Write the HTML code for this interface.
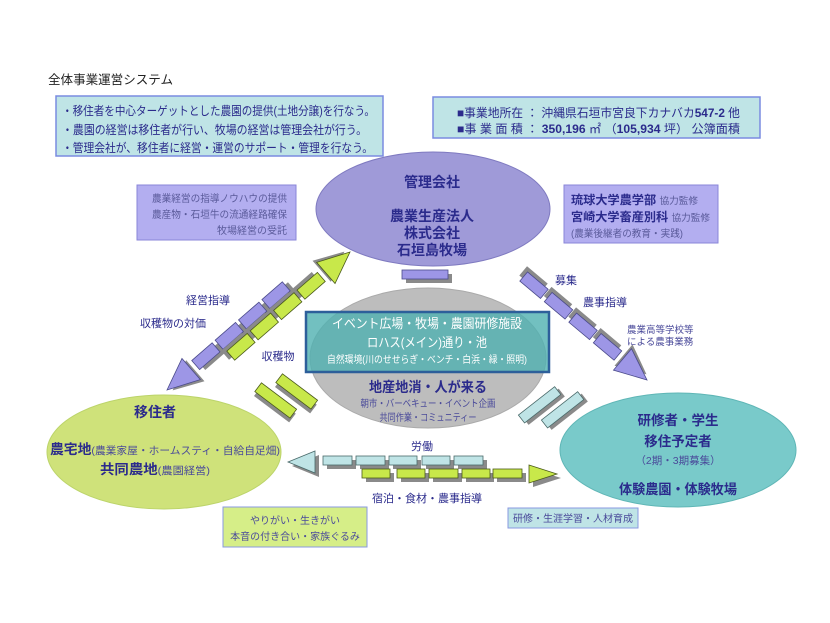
<!DOCTYPE html>
<html><head><meta charset="utf-8"><style>
html,body{margin:0;padding:0;background:#fff}
svg{display:block}
text{font-family:"Liberation Sans","Noto Sans CJK JP",sans-serif}
.b{font-weight:bold;fill:#2b2b8c}
</style></head><body>
<svg width="830" height="623" viewBox="0 0 830 623" xmlns="http://www.w3.org/2000/svg">
<defs>
<g id="ps"><rect x="4" y="-2" width="27" height="12" fill="#8a8a8a"/><rect x="0" y="-6" width="27" height="12" fill="#9d96e6" stroke="#4a4a8a" stroke-width="0.8"/></g>
<g id="gs"><rect x="4" y="-2" width="27" height="12" fill="#8a8a8a"/><rect x="0" y="-6" width="27" height="12" fill="#c8e84a" stroke="#4a5a1a" stroke-width="0.8"/></g>
</defs>
<rect width="830" height="623" fill="#fff"/>
<text x="48" y="84" font-size="12.5" fill="#222" textLength="125" lengthAdjust="spacingAndGlyphs">全体事業運営システム</text>

<rect x="56" y="96" width="327" height="60" fill="#bfe4e6" stroke="#7a8be0" stroke-width="1.5"/>
<g font-size="12.2" fill="#2b2b8c" lengthAdjust="spacingAndGlyphs">
<text x="62" y="115" textLength="313" lengthAdjust="spacingAndGlyphs">・移住者を中心ターゲットとした農園の提供(土地分譲)を行なう。</text>
<text x="62" y="134" textLength="305" lengthAdjust="spacingAndGlyphs">・農園の経営は移住者が行い、牧場の経営は管理会社が行う。</text>
<text x="62" y="152" textLength="311" lengthAdjust="spacingAndGlyphs">・管理会社が、移住者に経営・運営のサポート・管理を行なう。</text>
</g>

<rect x="433" y="97" width="327" height="41" fill="#bfe4e6" stroke="#7a8be0" stroke-width="1.5"/>
<g font-size="12" fill="#2b2b8c">
<text x="457" y="117" textLength="283" lengthAdjust="spacingAndGlyphs">■事業地所在 ： 沖縄県石垣市宮良下カナバカ<tspan font-weight="bold">547-2</tspan> 他</text>
<text x="457" y="133" textLength="283" lengthAdjust="spacingAndGlyphs">■事 業 面 積 ： <tspan font-weight="bold">350,196</tspan> ㎡ （<tspan font-weight="bold">105,934</tspan> 坪） 公簿面積</text>
</g>

<rect x="137" y="185" width="159" height="55" fill="#b3aef0" stroke="#8a86d8"/>
<g font-size="10" fill="#5a5a9a" text-anchor="end">
<text x="287" y="202" textLength="135" lengthAdjust="spacingAndGlyphs">農業経営の指導ノウハウの提供</text>
<text x="287" y="218" textLength="135" lengthAdjust="spacingAndGlyphs">農産物・石垣牛の流通経路確保</text>
<text x="287" y="234" textLength="70" lengthAdjust="spacingAndGlyphs">牧場経営の受託</text>
</g>

<rect x="564" y="185" width="154" height="58" fill="#b3aef0" stroke="#8a86d8"/>
<text x="571" y="204" font-size="12" class="b" textLength="127" lengthAdjust="spacingAndGlyphs">琉球大学農学部 <tspan font-size="9.5" font-weight="normal" fill="#5a5a9a">協力監修</tspan></text>
<text x="571" y="221" font-size="12" class="b" textLength="139" lengthAdjust="spacingAndGlyphs">宮崎大学畜産別科 <tspan font-size="9.5" font-weight="normal" fill="#5a5a9a">協力監修</tspan></text>
<text x="571" y="237" font-size="10" fill="#5a5a9a" textLength="112" lengthAdjust="spacingAndGlyphs">(農業後継者の教育・実践)</text>

<!-- top ellipse -->
<ellipse cx="433" cy="209" rx="117" ry="57" fill="#9f9ad8" stroke="#7f7ac0"/>
<g font-size="14" class="b" text-anchor="middle">
<text x="432" y="187">管理会社</text>
<text x="432" y="221">農業生産法人</text>
<text x="432" y="238">株式会社</text>
<text x="432" y="255">石垣島牧場</text>
</g>
<rect x="406" y="274" width="46" height="9" fill="#8a8a8a"/>
<rect x="402" y="270" width="46" height="9" fill="#9d96e6" stroke="#4a4a8a" stroke-width="0.8"/>

<!-- center -->
<ellipse cx="428" cy="358" rx="118" ry="70" fill="#bdbdbd" stroke="#aaa"/>
<rect x="306" y="312" width="243" height="60" fill="#4fb0b0" fill-opacity="0.8" stroke="#2d5f9a" stroke-width="2.5"/>
<g text-anchor="middle" fill="#fff">
<text x="427" y="328" font-size="13" textLength="190" lengthAdjust="spacingAndGlyphs">イベント広場・牧場・農園研修施設</text>
<text x="427" y="347" font-size="13" textLength="120" lengthAdjust="spacingAndGlyphs">ロハス(メイン)通り・池</text>
<text x="427" y="363" font-size="10" textLength="200" lengthAdjust="spacingAndGlyphs">自然環境(川のせせらぎ・ベンチ・白浜・緑・照明)</text>
</g>
<text x="428" y="392" font-size="14" class="b" text-anchor="middle" textLength="118" lengthAdjust="spacingAndGlyphs">地産地消・人が来る</text>
<text x="428" y="407" font-size="10" fill="#4a4a9a" text-anchor="middle" textLength="135" lengthAdjust="spacingAndGlyphs">朝市・バーベキュー・イベント企画</text>
<text x="428" y="421" font-size="10" fill="#4a4a9a" text-anchor="middle" textLength="97" lengthAdjust="spacingAndGlyphs">共同作業・コミュニティー</text>

<!-- left ellipse -->
<ellipse cx="164" cy="452" rx="117" ry="57" fill="#cfe27a" stroke="#bcd46a"/>
<text x="155" y="417" font-size="14" class="b" text-anchor="middle">移住者</text>
<text x="50" y="454" font-size="13.5" class="b" textLength="230" lengthAdjust="spacingAndGlyphs">農宅地<tspan font-size="10.5" font-weight="normal" fill="#4a4a9a">(農業家屋・ホームスティ・自給自足畑)</tspan></text>
<text x="100" y="474" font-size="13.5" class="b" textLength="110" lengthAdjust="spacingAndGlyphs">共同農地<tspan font-size="10.5" font-weight="normal" fill="#4a4a9a">(農園経営)</tspan></text>

<!-- right ellipse -->
<ellipse cx="678" cy="450" rx="118" ry="57" fill="#79caca" stroke="#5fb6b6"/>
<g font-size="13.5" class="b" text-anchor="middle">
<text x="678" y="425">研修者・学生</text>
<text x="678" y="446">移住予定者</text>
<text x="678" y="494" textLength="118" lengthAdjust="spacingAndGlyphs">体験農園・体験牧場</text>
</g>
<text x="678" y="464" font-size="10.5" fill="#4a4a9a" text-anchor="middle">（2期・3期募集）</text>

<!-- bottom boxes -->
<rect x="223" y="507" width="144" height="40" fill="#d6ee88" stroke="#8a9ae0"/>
<text x="295" y="524" font-size="10" fill="#4a4a9a" text-anchor="middle">やりがい・生きがい</text>
<text x="295" y="540" font-size="10" fill="#4a4a9a" text-anchor="middle">本音の付き合い・家族ぐるみ</text>
<rect x="508" y="508" width="130" height="20" fill="#bfe4e6" stroke="#8a9ae0"/>
<text x="573" y="522" font-size="10" fill="#4a4a9a" text-anchor="middle">研修・生涯学習・人材育成</text>

<!-- left diagonal purple -->
<g transform="translate(167,390) rotate(-41)">
<polygon points="4,4 34,-10 34,18" fill="#8a8a8a"/>
<polygon points="0,0 32,-14 32,14" fill="#9d96e6" stroke="#4a4a8a" stroke-width="0.8"/>
<use href="#ps" x="38"/><use href="#ps" x="69"/><use href="#ps" x="100"/><use href="#ps" x="131"/>
</g>
<!-- left diagonal green -->
<g transform="translate(350,252) rotate(139)">
<polygon points="4,4 34,-10 34,18" fill="#8a8a8a"/>
<polygon points="0,0 32,-14 32,14" fill="#c8e84a" stroke="#4a5a1a" stroke-width="0.8"/>
<use href="#gs" x="38"/><use href="#gs" x="69"/><use href="#gs" x="100"/><use href="#gs" x="131"/>
</g>
<!-- right diagonal purple -->
<g transform="translate(647,380) rotate(-140)">
<polygon points="4,4 34,-10 34,18" fill="#8a8a8a"/>
<polygon points="0,0 32,-14 32,14" fill="#9d96e6" stroke="#4a4a8a" stroke-width="0.8"/>
<use href="#ps" x="38"/><use href="#ps" x="70"/><use href="#ps" x="102"/><use href="#ps" x="134"/>
</g>

<!-- green pair -->
<g transform="translate(277,402) rotate(37)"><rect x="-22" y="-2" width="44" height="11" fill="#8a8a8a"/><rect x="-24" y="-6" width="44" height="11" fill="#c8e84a" stroke="#4a5a1a" stroke-width="0.8"/></g>
<g transform="translate(298,393) rotate(37)"><rect x="-22" y="-2" width="44" height="11" fill="#8a8a8a"/><rect x="-24" y="-6" width="44" height="11" fill="#c8e84a" stroke="#4a5a1a" stroke-width="0.8"/></g>
<!-- cyan pair -->
<g transform="translate(541,405) rotate(-38)"><rect x="-22" y="-2" width="46" height="10" fill="#8a8a8a"/><rect x="-24" y="-6" width="46" height="10" fill="#bfe4e6" stroke="#4a6a6a" stroke-width="0.8"/></g>
<g transform="translate(564,410) rotate(-38)"><rect x="-22" y="-2" width="46" height="10" fill="#8a8a8a"/><rect x="-24" y="-6" width="46" height="10" fill="#bfe4e6" stroke="#4a6a6a" stroke-width="0.8"/></g>

<!-- horizontal cyan -->
<polygon points="292,466 319,455 319,477" fill="#8a8a8a"/>
<polygon points="288,462 315,451 315,473" fill="#bfe4e6" stroke="#4a6a6a" stroke-width="0.8"/>
<g fill="#bfe4e6" stroke="#4a6a6a" stroke-width="0.8">
<rect x="327" y="460" width="29" height="9" fill="#8a8a8a" stroke="none"/><rect x="360" y="460" width="29" height="9" fill="#8a8a8a" stroke="none"/><rect x="393" y="460" width="28" height="9" fill="#8a8a8a" stroke="none"/><rect x="426" y="460" width="28" height="9" fill="#8a8a8a" stroke="none"/><rect x="458" y="460" width="29" height="9" fill="#8a8a8a" stroke="none"/>
<rect x="323" y="456" width="29" height="9"/><rect x="356" y="456" width="29" height="9"/><rect x="389" y="456" width="28" height="9"/><rect x="422" y="456" width="28" height="9"/><rect x="454" y="456" width="29" height="9"/>
</g>
<!-- horizontal green -->
<g fill="#c8e84a" stroke="#4a5a1a" stroke-width="0.8">
<rect x="366" y="473" width="28" height="9" fill="#8a8a8a" stroke="none"/><rect x="401" y="473" width="28" height="9" fill="#8a8a8a" stroke="none"/><rect x="433" y="473" width="29" height="9" fill="#8a8a8a" stroke="none"/><rect x="466" y="473" width="28" height="9" fill="#8a8a8a" stroke="none"/><rect x="497" y="473" width="29" height="9" fill="#8a8a8a" stroke="none"/>
<rect x="362" y="469" width="28" height="9"/><rect x="397" y="469" width="28" height="9"/><rect x="429" y="469" width="29" height="9"/><rect x="462" y="469" width="28" height="9"/><rect x="493" y="469" width="29" height="9"/>
</g>
<polygon points="533,469 561,478 533,487" fill="#8a8a8a"/>
<polygon points="529,465 557,474 529,483" fill="#c8e84a" stroke="#4a5a1a" stroke-width="0.8"/>

<!-- labels -->
<g font-size="11" fill="#2b2b8c" text-anchor="middle">
<text x="208" y="304">経営指導</text>
<text x="173" y="327">収穫物の対価</text>
<text x="278" y="360">収穫物</text>
<text x="566" y="284">募集</text>
<text x="605" y="306">農事指導</text>
<text x="422" y="450">労働</text>
<text x="427" y="502">宿泊・食材・農事指導</text>
</g>
<text x="627" y="333" font-size="9.5" fill="#4a4a9a">農業高等学校等</text>
<text x="627" y="345" font-size="9.5" fill="#4a4a9a">による農事業務</text>
</svg>
</body></html>
